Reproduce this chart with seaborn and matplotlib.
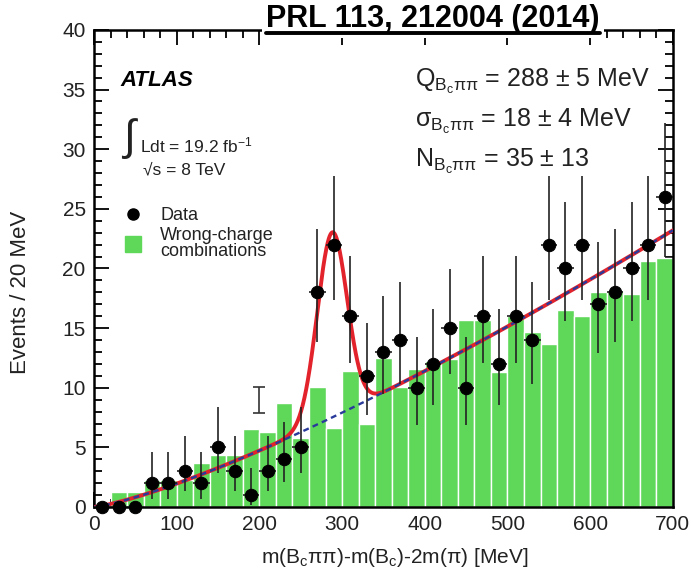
import numpy as np
import pandas as pd
import matplotlib
matplotlib.use("Agg")
import matplotlib.pyplot as plt
from matplotlib.ticker import MultipleLocator
from matplotlib.lines import Line2D
import seaborn as sns

# ---------------- data ----------------
bin_edges = list(range(0, 720, 20))          # 20 MeV bins, 0..700
bin_centers = [e + 10 for e in bin_edges[:-1]]

data_counts = [0, 0, 0, 2, 2, 3, 2, 5, 3, 1, 3, 4, 5, 18, 22, 16, 11, 13, 14, 10,
               12, 15, 10, 16, 12, 16, 14, 22, 20, 22, 17, 18, 20, 22, 26]
err_low = [0, 0, 0, 1.29, 1.29, 1.63, 1.29, 2.16, 1.63, 0.83, 1.63, 1.91, 2.16,
           4.20, 4.66, 3.96, 3.27, 3.56, 3.70, 3.11, 3.41, 3.83, 3.11, 3.96, 3.41,
           3.96, 3.70, 4.66, 4.44, 4.66, 4.08, 4.20, 4.44, 4.66, 5.07]
err_high = [0, 0, 0, 2.64, 2.64, 2.92, 2.64, 3.38, 2.92, 2.30, 2.92, 3.16, 3.38,
            5.32, 5.76, 5.08, 4.42, 4.69, 4.83, 4.26, 4.57, 4.96, 4.26, 5.08, 4.57,
            5.08, 4.83, 5.76, 5.55, 5.76, 5.20, 5.32, 5.55, 5.76, 6.16]
wrong_charge = [0, 1.25, 1.25, 2.25, 2.25, 2.25, 3.7, 4.4, 4.4, 6.5, 6.3, 8.7, 5.8,
                10.1, 6.6, 11.4, 7.0, 12.5, 10.1, 11.6, 12.2, 12.4, 15.7, 15.7, 11.3,
                16.0, 14.7, 13.7, 16.5, 16.0, 18.0, 18.2, 17.9, 20.6, 20.9]

# fit parameters
sig_Q, sig_sigma, sig_N, bin_width = 288.0, 18.0, 35.0, 20.0
bkg_at_700, bkg_power = 23.2, 1.27

# syst. marker
syst_x, syst_y, syst_err = 200, 9.0, 1.1

df_hist = pd.DataFrame({"x": bin_centers, "w": wrong_charge})
df_data = pd.DataFrame({"x": bin_centers, "n": data_counts})

xfit = np.linspace(0, 700, 1401)
bkg = bkg_at_700 * (xfit / 700.0) ** bkg_power
sig = sig_N * bin_width / (sig_sigma * np.sqrt(2 * np.pi)) * np.exp(-0.5 * ((xfit - sig_Q) / sig_sigma) ** 2)
df_fit = pd.DataFrame({"x": xfit, "total": bkg + sig, "bkg": bkg})

# ---------------- style ----------------
sns.set_style("ticks")
plt.rcParams["font.family"] = ["Liberation Sans", "DejaVu Sans"]
plt.rcParams["mathtext.fontset"] = "custom"
plt.rcParams["mathtext.rm"] = "Liberation Sans"
plt.rcParams["mathtext.it"] = "Liberation Sans:italic"
plt.rcParams["mathtext.bf"] = "Liberation Sans:bold"

green = "#5fd85a"
txt = "#222222"

fig = plt.figure(figsize=(6.93, 5.87), dpi=100)
ax = fig.add_axes([0.1356, 0.1363, 0.8354, 0.8127])

sns.histplot(data=df_hist, x="x", weights="w", binwidth=bin_width, binrange=(0, 700),
             color=green, edgecolor="white", linewidth=1.0, alpha=1.0, ax=ax, zorder=1)

sns.lineplot(data=df_fit, x="x", y="total", color="#e3232c", linewidth=2.8, ax=ax, zorder=3)
sns.lineplot(data=df_fit, x="x", y="bkg", color="#2a3a9a", linewidth=1.7, ax=ax, zorder=4,
             linestyle=(0, (2.5, 1.8)))

ax.errorbar(df_data["x"], df_data["n"], yerr=[err_low, err_high], xerr=10,
            fmt="none", ecolor="#222222", elinewidth=1.2, capsize=0, zorder=5)
sns.scatterplot(data=df_data, x="x", y="n", color="black", s=80, edgecolor="black",
                ax=ax, zorder=6, clip_on=False)

ax.errorbar([syst_x], [syst_y], yerr=[[syst_err], [syst_err]], fmt="none",
            ecolor="#333333", elinewidth=1.2, capsize=4, capthick=1.2, zorder=5)

ax.set_xlim(0, 700)
ax.set_ylim(0, 40)
ax.xaxis.set_major_locator(MultipleLocator(100))
ax.xaxis.set_minor_locator(MultipleLocator(20))
ax.yaxis.set_major_locator(MultipleLocator(5))
ax.yaxis.set_minor_locator(MultipleLocator(1))
ax.tick_params(which="both", direction="in", top=True, right=True, width=1.3,
               labelsize=15, colors="black", labelcolor=txt)
ax.tick_params(which="major", length=11, pad=6)
ax.tick_params(which="minor", length=5.5)
for s in ax.spines.values():
    s.set_linewidth(1.8)
    s.set_color("black")

ax.set_xlabel("m(B$_{\\mathrm{c}}$ππ)-m(B$_{\\mathrm{c}}$)-2m(π) [MeV]", fontsize=15, color=txt)
ax.set_ylabel("Events / 20 MeV", fontsize=16, color=txt)
ax.xaxis.set_label_coords(0.52, -0.082)
ax.yaxis.set_label_coords(-0.108, 0.45)

# ATLAS labels
ax.text(0.045, 0.893, "ATLAS", transform=ax.transAxes, fontsize=16,
        fontweight="bold", fontstyle="italic", va="center", ha="left", color="black")
ax.text(0.046, 0.772, "$\\int$", transform=ax.transAxes, fontsize=31, va="center",
        ha="left", color=txt)
ax.text(0.080, 0.758, "Ldt = 19.2 fb$^{\\mathrm{-1}}$", transform=ax.transAxes,
        fontsize=12.5, va="center", ha="left", color=txt)
ax.text(0.085, 0.706, "√s = 8 TeV", transform=ax.transAxes, fontsize=12.5,
        va="center", ha="left", color=txt)

# legend
leg = ax.legend(handles=[
    Line2D([], [], marker="o", color="black", linestyle="none", markersize=8),
    Line2D([], [], marker="s", color=green, linestyle="none", markersize=12)],
    labels=["Data", "Wrong-charge\ncombinations"],
    loc="upper left", bbox_to_anchor=(0.027, 0.655), frameon=False, fontsize=13,
    handletextpad=0.9, labelspacing=0.15, borderpad=0.2, handlelength=1.2)
for t in leg.get_texts():
    t.set_color(txt)
    t.set_linespacing(0.95)

# fit results
res_x = 0.555
for yy, s in [(0.892, "Q$_{\\mathrm{B_{c}ππ}}$ = 288 ± 5 MeV"),
              (0.808, "σ$_{\\mathrm{B_{c}ππ}}$ = 18 ± 4 MeV"),
              (0.724, "N$_{\\mathrm{B_{c}ππ}}$ = 35 ± 13")]:
    ax.text(res_x, yy, s, transform=ax.transAxes, fontsize=18, va="center",
            ha="left", color=txt)

# title with underline
title = fig.text(0.625, 0.968, "PRL 113, 212004 (2014)", fontsize=22, fontweight="bold",
                 ha="center", va="center", color="black", zorder=8,
                 bbox=dict(facecolor="white", edgecolor="none", pad=3))
fig.canvas.draw()
bb = title.get_window_extent(renderer=fig.canvas.get_renderer())
inv = fig.transFigure.inverted()
(x0, y0), (x1, y1) = inv.transform([[bb.x0, bb.y0], [bb.x1, bb.y1]])
fig.add_artist(Line2D([x0, x1], [y0 + 0.002, y0 + 0.002], color="black", linewidth=2.8,
                      transform=fig.transFigure, zorder=10))

fig.savefig("out.png", dpi=100)
